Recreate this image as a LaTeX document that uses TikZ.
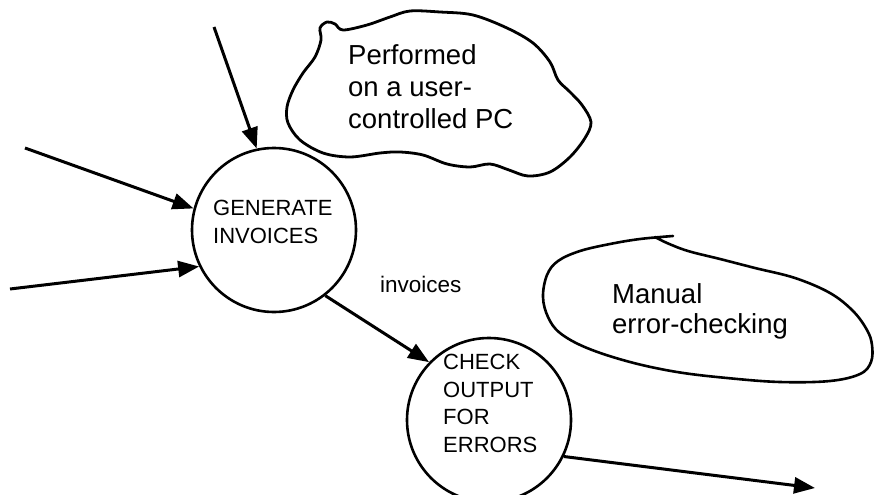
\documentclass[tikz,border=0pt]{standalone}
\usepackage{fontspec}
\setmainfont{Liberation Sans}
\usetikzlibrary{arrows.meta}
\begin{document}
\begin{tikzpicture}[x=1pt,y=-1pt,
  proc/.style={circle,draw,line width=2.6pt,minimum size=164pt,inner sep=0pt},
  flow/.style={line width=3pt,-{Triangle[length=21pt,width=16pt]}},
  ctext/.style={anchor=base west,align=left,inner sep=0pt,font=\fontsize{22}{27.5}\selectfont},
  lbl/.style={anchor=base west,inner sep=0pt,font=\fontsize{22.5}{27}\selectfont},
  note/.style={anchor=base west,align=left,inner sep=0pt,font=\fontsize{27.5}{31.5}\selectfont},
  note2/.style={anchor=base west,align=left,inner sep=0pt,font=\fontsize{27.5}{30}\selectfont},
  outline/.style={draw,line width=2.8pt,line join=round},
  blobline/.style={draw,line width=2.6pt,line cap=round}]
\useasboundingbox (0,0) rectangle (875,495);
% processes
\node[proc] (gen) at (274,230) {};
\node[proc] (chk) at (489,420) {};
\node[ctext] (gent) at (213,243) {GENERATE\\INVOICES};
\node[ctext] (chkt) at (443,452) {CHECK\\OUTPUT\\FOR\\ERRORS};
\node[lbl] (inv) at (380,292) {invoices};
% cloud annotation
\path[outline] plot[smooth cycle, tension=0.55] coordinates {
 (321,40) (320,28) (327,22) (335,24) (343,30) (367,25) (390,17) (410,11)
 (440,12) (473,15) (507,28) (533,43) (550,62) (558,80) (570,92) (582,105)
 (591,122) (585,138) (570,157) (550,172) (528,176) (509,170) (490,164)
 (470,167) (447,164) (423,155) (400,152) (380,153) (350,157) (323,153)
 (300,140) (288,123) (287,107) (293,90) (303,73) (315,57)};
\node[note] (perf) at (348,128) {Performed\\on a user-\\controlled PC};
% manual blob
\path[blobline] plot[smooth, tension=0.6] coordinates {
 (673,236) (640,239) (610,244) (580,251) (558,261) (547,275) (543,297)
 (548,317) (560,333) (587,348) (630,362) (677,372) (727,378) (780,382)
 (830,381) (860,374) (871,362) (872,345) (867,330) (853,311) (830,293)
 (795,278) (755,268) (720,259) (688,251) (667,243) (655,237)};
\node[note2] (man) at (612,333) {Manual\\error-checking};
% connectors
\coordinate (inTop) at (214,27);
\coordinate (inL1) at (25,148);
\coordinate (inL2) at (10,289);
\coordinate (outE) at (815,488);
\draw[flow] (inTop) -- (gen.102);
\draw[flow] (inL1) -- (gen.165);
\draw[flow] (inL2) -- (gen.206);
\draw[flow] (gen.-52) -- (chk.136);
\draw[flow] (chk.-26) -- (outE);
\end{tikzpicture}
\end{document}
